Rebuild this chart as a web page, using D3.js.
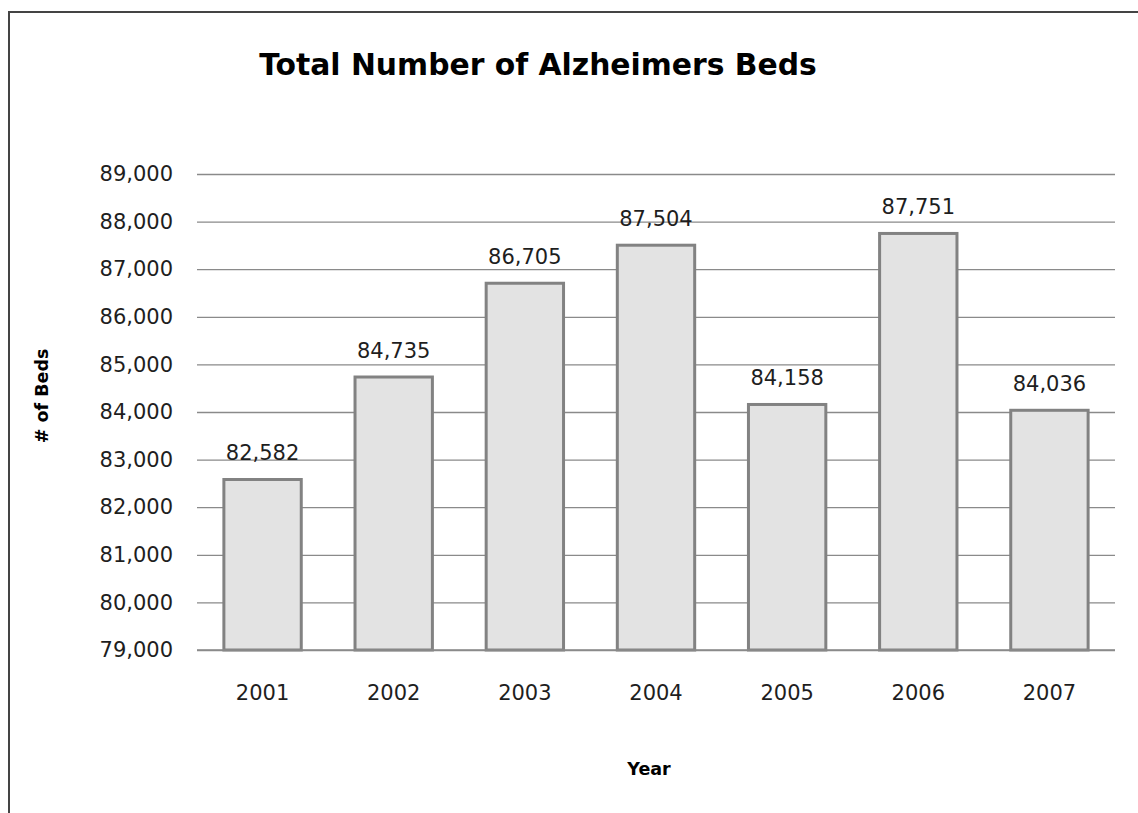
<!DOCTYPE html>
<html><head><meta charset="utf-8">
<script src="https://cdn.jsdelivr.net/npm/d3@7"></script>
<style>body{margin:0;background:#fff;} svg{display:block;}</style>
</head><body>
<svg id="c" width="1138" height="813"></svg>
<script>
const years = ["2001","2002","2003","2004","2005","2006","2007"];
const beds = [82582, 84735, 86705, 87504, 84158, 87751, 84036];
const yTicks = [79000,80000,81000,82000,83000,84000,85000,86000,87000,88000,89000];
const titleText = "Total Number of Alzheimers Beds";
const xTitle = "Year";
const yTitle = "# of Beds";

(function(){
const svg = d3.select("#c");
const font = "'DejaVu Sans', Verdana, sans-serif";
const fmt = d3.format(",");

// outer border
svg.append("rect").attr("x",9).attr("y",12).attr("width",1140).attr("height",820)
  .attr("fill","none").attr("stroke","#444").attr("stroke-width",2);

const pL = 197, pR = 1115, pT = 174, pB = 650;
const x = d3.scaleBand().domain(years).range([pL,pR]).paddingInner(0.41).paddingOuter(0.205);
const y = d3.scaleLinear().domain([79000,89000]).range([pB,pT]);

// gridlines + y tick labels
const yAxis = d3.axisLeft(y).tickValues(yTicks).tickFormat(fmt).tickSize(-(pR-pL)).tickPadding(24);
const gy = svg.append("g").attr("transform",`translate(${pL},0)`).call(yAxis);
gy.select(".domain").remove();
gy.selectAll(".tick line").attr("stroke","#8a8a8a").attr("stroke-width",1.3);
gy.selectAll(".tick text").attr("font-family",font).attr("font-size",21).attr("fill","#1e1e1e");

// bars
svg.append("g").selectAll("rect").data(beds).join("rect")
  .attr("x",(d,i)=>x(years[i])).attr("width",x.bandwidth())
  .attr("y",d=>y(d)).attr("height",d=>pB-y(d))
  .attr("fill","#e3e3e3").attr("stroke","#828282").attr("stroke-width",3);

// baseline
svg.append("line").attr("x1",pL).attr("x2",pR).attr("y1",pB).attr("y2",pB)
  .attr("stroke","#8a8a8a").attr("stroke-width",1.5);

// value labels
svg.append("g").selectAll("text").data(beds).join("text")
  .attr("x",(d,i)=>x(years[i])+x.bandwidth()/2).attr("y",d=>y(d)-19)
  .attr("text-anchor","middle").attr("font-family",font).attr("font-size",21).attr("fill","#1e1e1e")
  .text(d=>fmt(d));

// x axis labels
const xAxis = d3.axisBottom(x).tickSize(0);
const gx = svg.append("g").attr("transform",`translate(0,${pB})`).call(xAxis);
gx.select(".domain").remove();
gx.selectAll(".tick text").attr("y",50).attr("dy",0)
  .attr("font-family",font).attr("font-size",21).attr("fill","#1e1e1e");

// titles
svg.append("text").attr("x",538).attr("y",75).attr("text-anchor","middle")
  .attr("font-family",font).attr("font-weight","bold").attr("font-size",29.8).attr("fill","#000").text(titleText);
svg.append("text").attr("x",649).attr("y",775).attr("text-anchor","middle")
  .attr("font-family",font).attr("font-weight","bold").attr("font-size",17.5).attr("fill","#000").text(xTitle);
svg.append("text").attr("transform","translate(48,396) rotate(-90)").attr("text-anchor","middle")
  .attr("font-family",font).attr("font-weight","bold").attr("font-size",17.5).attr("fill","#000").text(yTitle);
})();
</script>
</body></html>
